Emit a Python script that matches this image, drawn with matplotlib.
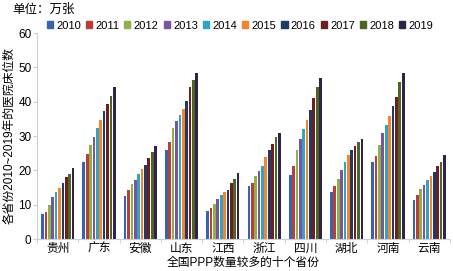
import numpy as np
import matplotlib.pyplot as plt
from matplotlib.patches import Patch

plt.rcParams['font.family'] = ['Liberation Sans', 'Noto Sans CJK SC']

provinces = ['贵州', '广东', '安徽', '山东', '江西', '浙江', '四川', '湖北', '河南', '云南']
years = ['2010', '2011', '2012', '2013', '2014', '2015', '2016', '2017', '2018', '2019']

# beds (10k) per province, 2010..2019
guizhou   = [7.2, 8.0, 9.8, 12.2, 13.7, 14.8, 16.2, 18.0, 19.0, 20.6]
guangdong = [22.5, 24.9, 27.4, 29.7, 32.2, 34.6, 37.2, 39.4, 41.7, 44.4]
anhui     = [12.5, 14.4, 16.0, 17.3, 18.8, 20.4, 21.7, 23.6, 25.4, 27.2]
shandong  = [25.8, 28.3, 32.3, 34.3, 36.2, 38.0, 40.1, 44.4, 46.2, 48.3]
jiangxi   = [8.1, 8.9, 10.3, 11.8, 12.8, 13.6, 14.4, 16.3, 17.6, 19.2]
zhejiang  = [15.4, 16.4, 18.3, 19.9, 21.4, 24.0, 25.8, 27.7, 29.7, 31.0]
sichuan   = [18.6, 21.2, 26.0, 29.1, 32.0, 34.6, 37.7, 41.1, 44.4, 47.0]
hubei     = [13.6, 15.4, 17.5, 20.1, 22.5, 24.6, 26.0, 27.2, 28.3, 29.1]
henan     = [22.3, 24.1, 27.4, 30.9, 33.3, 35.9, 38.7, 41.4, 45.7, 48.3]
yunnan    = [11.5, 12.7, 14.6, 15.7, 17.3, 18.3, 19.6, 21.2, 22.5, 24.4]

data = np.array([guizhou, guangdong, anhui, shandong, jiangxi,
                 zhejiang, sichuan, hubei, henan, yunnan])

colors = ['#3565AE', '#BC3C3A', '#8EB246', '#7955A0', '#31A3C6',
          '#F7842A', '#1F3A66', '#6E1E1E', '#4E6526', '#2F2448']

fig = plt.figure(figsize=(4.53, 2.71), dpi=100)
ax = fig.add_axes([0.082, 0.118, 0.911, 0.76])

n = len(years)
slot = 0.82 / n
x = np.arange(len(provinces))
for i in range(n):
    ax.bar(x - 0.41 + slot * (i + 0.5), data[:, i], width=slot * 0.8,
           color=colors[i], label=years[i])

ax.set_xlim(-0.5, len(provinces) - 0.5)
ax.set_ylim(0, 60)
ax.set_yticks(range(0, 61, 10))
ax.set_xticks(x)
ax.set_xticklabels(provinces, fontsize=8.5)
ax.set_xticks(np.arange(-0.5, len(provinces), 1), minor=True)
ax.tick_params(axis='x', which='major', length=0, pad=3)
ax.tick_params(axis='x', which='minor', length=3, color='#c8d0d8')
ax.tick_params(axis='y', length=3, color='#c8d0d8', labelsize=8.5, pad=1)

for s in ['top', 'right']:
    ax.spines[s].set_visible(False)
for s in ['left', 'bottom']:
    ax.spines[s].set_color('#c8d0d8')

ax.set_xlabel('全国PPP数量较多的十个省份', fontsize=8.5, labelpad=1)
ax.set_ylabel('各省份2010~2019年的医院床位数', fontsize=8.5, labelpad=2)

handles = [Patch(color=c) for c in colors]
fig.legend(handles, years, loc='center', bbox_to_anchor=(0.53, 0.905), ncol=10,
           frameon=False, fontsize=8, handlelength=0.55, handleheight=0.55,
           handletextpad=0.3, columnspacing=0.45, borderpad=0)

fig.text(0.027, 0.965, '单位：万张', fontsize=9, va='center')

fig.savefig('out.png', dpi=100)
